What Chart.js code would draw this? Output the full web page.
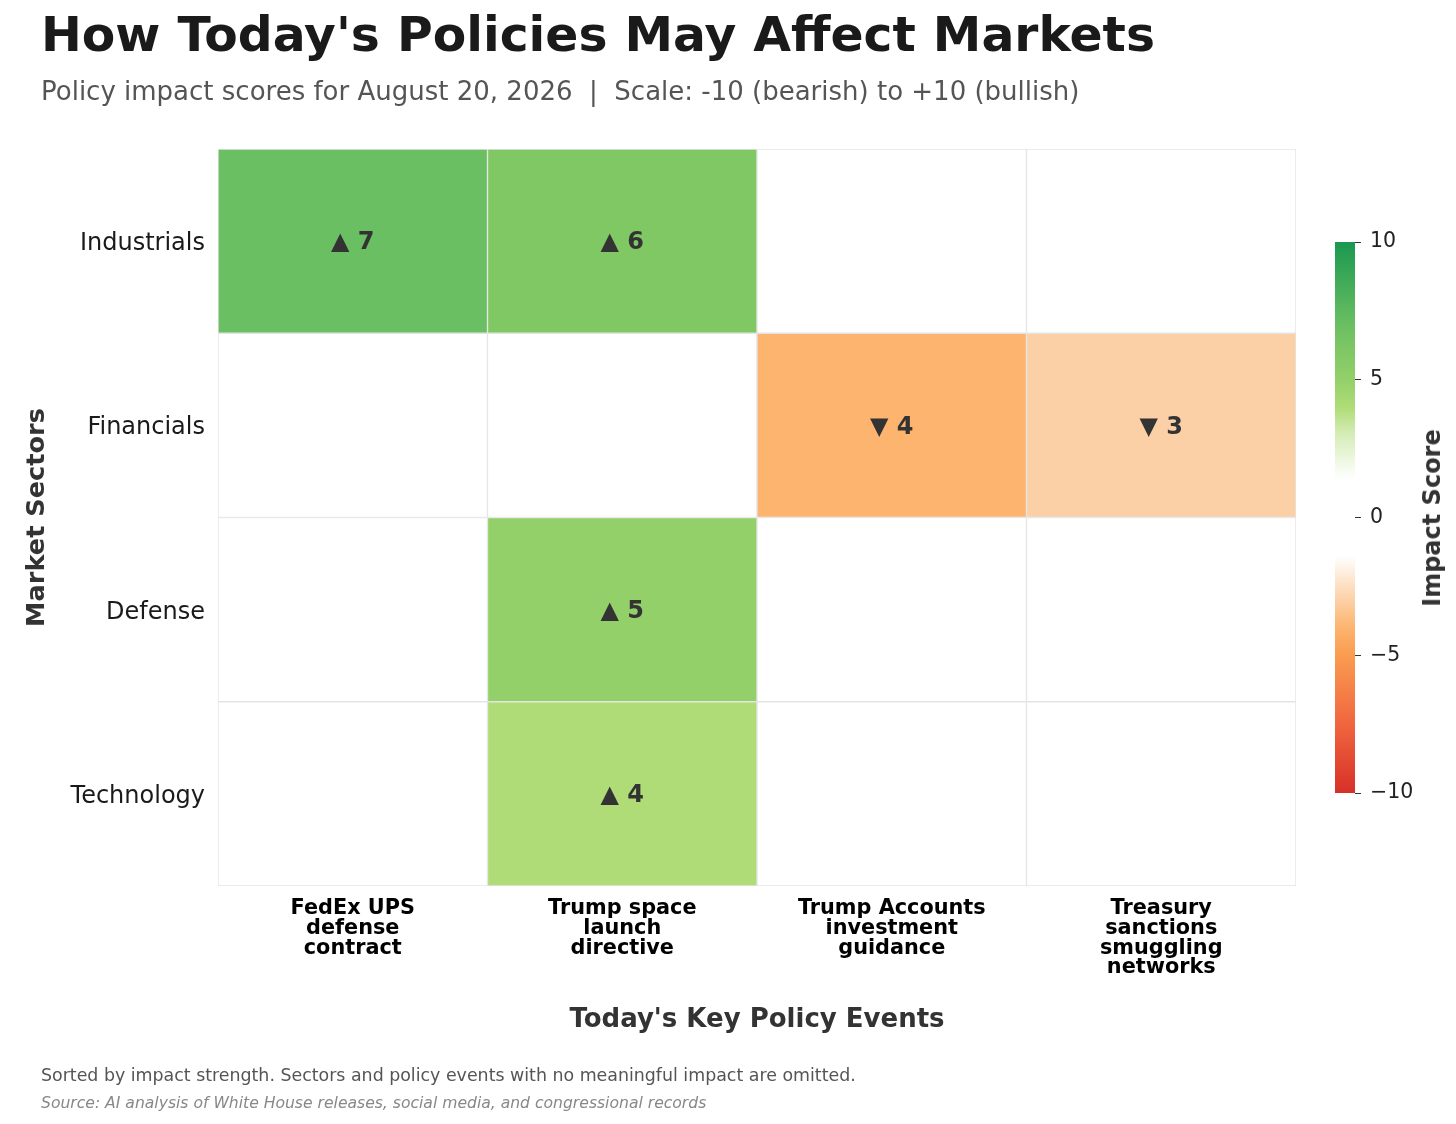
<!DOCTYPE html>
<html><head><meta charset="utf-8">
<script src="https://cdn.jsdelivr.net/npm/chart.js@4.4.1/dist/chart.umd.min.js"></script>
<style>
html,body{margin:0;padding:0;background:#fff;}
#wrap{position:relative;width:1456px;height:1124px;overflow:hidden;background:#fff;}
#main{position:absolute;left:0;top:0;width:1456px;height:1124px;}
#cb{position:absolute;left:1300px;top:200px;width:156px;height:640px;}
#cbTitle{position:absolute;left:1432px;top:518px;transform:translate(-50%,-50%) rotate(-90deg);font:bold 24px 'DejaVu Sans';color:#333;white-space:nowrap;}
</style></head><body>
<div id="wrap">
<canvas id="main" width="1456" height="1124"></canvas>
<canvas id="cb" width="156" height="640"></canvas>
<div id="cbTitle">Impact Score</div>
</div>
<script>
// ---- data ----
const sectors = ['Industrials', 'Financials', 'Defense', 'Technology'];
const eventLines = [
  ['FedEx UPS', 'defense', 'contract'],
  ['Trump space', 'launch', 'directive'],
  ['Trump Accounts', 'investment', 'guidance'],
  ['Treasury', 'sanctions', 'smuggling', 'networks']
];
const industrialsScores = [7, 6, 0, 0];
const financialsScores  = [0, 0, -4, -3];
const defenseScores     = [0, 5, 0, 0];
const technologyScores  = [0, 4, 0, 0];
const scoreRows = [industrialsScores, financialsScores, defenseScores, technologyScores];
const colorbarTicks = [-10, -5, 0, 5, 10];

const titleText = "How Today's Policies May Affect Markets";
const subtitleText = "Policy impact scores for August 20, 2026  |  Scale: -10 (bearish) to +10 (bullish)";
const noteText = "Sorted by impact strength. Sectors and policy events with no meaningful impact are omitted.";
const sourceText = "Source: AI analysis of White House releases, social media, and congressional records";

// ---- colormap (style) ----
const cmapStops = [
  [-10, '#d73027'], [-7.5, '#f0663f'], [-5, '#fa9c50'], [-4, '#fdb46e'], [-3, '#fcd0a6'],
  [-1.4, '#ffffff'], [1.4, '#ffffff'], [3, '#d6edb8'], [4, '#afdc76'], [5, '#93d06a'],
  [6, '#80c864'], [7, '#6abf62'], [10, '#1a9850']
];
function hex2rgb(h){return [parseInt(h.slice(1,3),16),parseInt(h.slice(3,5),16),parseInt(h.slice(5,7),16)];}
function cmap(v){
  if (v === 0) return '#ffffff';
  for (let i=0;i<cmapStops.length-1;i++){
    const [v0,c0]=cmapStops[i],[v1,c1]=cmapStops[i+1];
    if (v>=v0 && v<=v1){
      const t=(v-v0)/(v1-v0), a=hex2rgb(c0), b=hex2rgb(c1);
      return 'rgb('+a.map((x,k)=>Math.round(x+(b[k]-x)*t)).join(',')+')';
    }
  }
  return v<0?cmapStops[0][1]:cmapStops[cmapStops.length-1][1];
}

const FF = "'DejaVu Sans'";
const labelNudge = 0.015; // small downward nudge of sector labels (in row units)

const datasets = sectors.map((s, r) => ({
  label: s,
  data: eventLines.map(() => [r, r + 1]),
  backgroundColor: scoreRows[r].map(cmap),
  borderColor: '#e4e4e4',
  borderWidth: 1,
  borderSkipped: false,
  grouped: false,
  barPercentage: 1,
  categoryPercentage: 1
}));

const textPlugin = {
  id: 'texts',
  afterDraw(chart) {
    const ctx = chart.ctx;
    ctx.save();
    ctx.textBaseline = 'alphabetic';
    ctx.textAlign = 'left';
    ctx.fillStyle = '#1a1a1a';
    ctx.font = 'bold 48.8px ' + FF;
    ctx.fillText(titleText, 41, 51);
    ctx.fillStyle = '#555555';
    ctx.font = '26px ' + FF;
    ctx.fillText(subtitleText, 41, 100);
    ctx.fillStyle = '#555555';
    ctx.font = '17.4px ' + FF;
    ctx.fillText(noteText, 41, 1081);
    ctx.fillStyle = '#888888';
    ctx.font = 'italic 15.6px ' + FF;
    ctx.fillText(sourceText, 41, 1108);
    ctx.restore();
  }
};

const annotPlugin = {
  id: 'annot',
  afterDatasetsDraw(chart) {
    const ctx = chart.ctx, xs = chart.scales.x, ys = chart.scales.y;
    ctx.save();
    ctx.font = 'bold 24px ' + FF;
    ctx.fillStyle = '#333333';
    ctx.textAlign = 'center';
    ctx.textBaseline = 'middle';
    scoreRows.forEach((row, r) => row.forEach((v, c) => {
      if (v === 0) return;
      const txt = (v > 0 ? '\u25B2 ' : '\u25BC ') + Math.abs(v);
      ctx.fillText(txt, xs.getPixelForValue(c), ys.getPixelForValue(r + 0.5) + 2);
    }));
    ctx.restore();
  }
};

new Chart(document.getElementById('main'), {
  type: 'bar',
  data: { labels: eventLines, datasets },
  options: {
    responsive: false, animation: false, devicePixelRatio: 1,
    layout: { padding: { left: 0, top: 149, right: 160, bottom: 0 } },
    plugins: { legend: { display: false }, tooltip: { enabled: false } },
    scales: {
      x: {
        type: 'category',
        grid: { display: false, drawTicks: false, tickLength: 0 },
        border: { display: false },
        ticks: { font: { family: 'DejaVu Sans', size: 20.8, weight: 'bold', lineHeight: 0.947 }, color: '#000', padding: 13, maxRotation: 0, autoSkip: false },
        title: { display: true, text: "Today's Key Policy Events", color: '#333', font: { family: 'DejaVu Sans', size: 26, weight: 'bold' }, padding: { top: 0, bottom: 88.4 } },
        afterFit(s) { s.height = 238; }
      },
      y: {
        type: 'linear', min: 0, max: 4, reverse: true,
        afterBuildTicks(s) { s.ticks = sectors.map((_, i) => ({ value: i + 0.5 + labelNudge })); },
        grid: { display: false, drawTicks: false, tickLength: 0 },
        border: { display: false },
        ticks: { font: { family: 'DejaVu Sans', size: 24 }, color: '#1a1a1a', padding: 13,
          callback: (v) => sectors[Math.floor(v)] },
        title: { display: true, text: 'Market Sectors', color: '#333', font: { family: 'DejaVu Sans', size: 25.6, weight: 'bold' }, padding: { top: 22.4, bottom: 0 } },
        afterFit(s) { s.width = 218; }
      }
    }
  },
  plugins: [textPlugin, annotPlugin]
});

new Chart(document.getElementById('cb'), {
  type: 'bar',
  data: { labels: ['Impact Score'], datasets: [{
    data: [[-10, 10]],
    backgroundColor: (c) => {
      const ca = c.chart.chartArea;
      if (!ca) return '#fff';
      const g = c.chart.ctx.createLinearGradient(0, ca.bottom, 0, ca.top);
      cmapStops.forEach(([v, col]) => g.addColorStop((v + 10) / 20, col));
      return g;
    },
    borderWidth: 0, barPercentage: 1, categoryPercentage: 1
  }] },
  options: {
    responsive: false, animation: false, devicePixelRatio: 1,
    layout: { padding: { left: 35, top: 42, bottom: 47, right: 0 } },
    plugins: { legend: { display: false }, tooltip: { enabled: false } },
    scales: {
      x: { display: false },
      y: {
        position: 'right', min: -10, max: 10,
        afterBuildTicks(s) { s.ticks = colorbarTicks.map(v => ({ value: v })); },
        grid: { drawOnChartArea: false, drawTicks: true, tickLength: 6, color: '#333', lineWidth: 1 },
        border: { display: false },
        ticks: { font: { family: 'DejaVu Sans', size: 20.5 }, color: '#222', padding: 9,
          callback: (v) => v < 0 ? '\u2212' + Math.abs(v) : String(v) },
        afterFit(s) { s.width = 101; }
      }
    }
  }
});
</script>
</body></html>
